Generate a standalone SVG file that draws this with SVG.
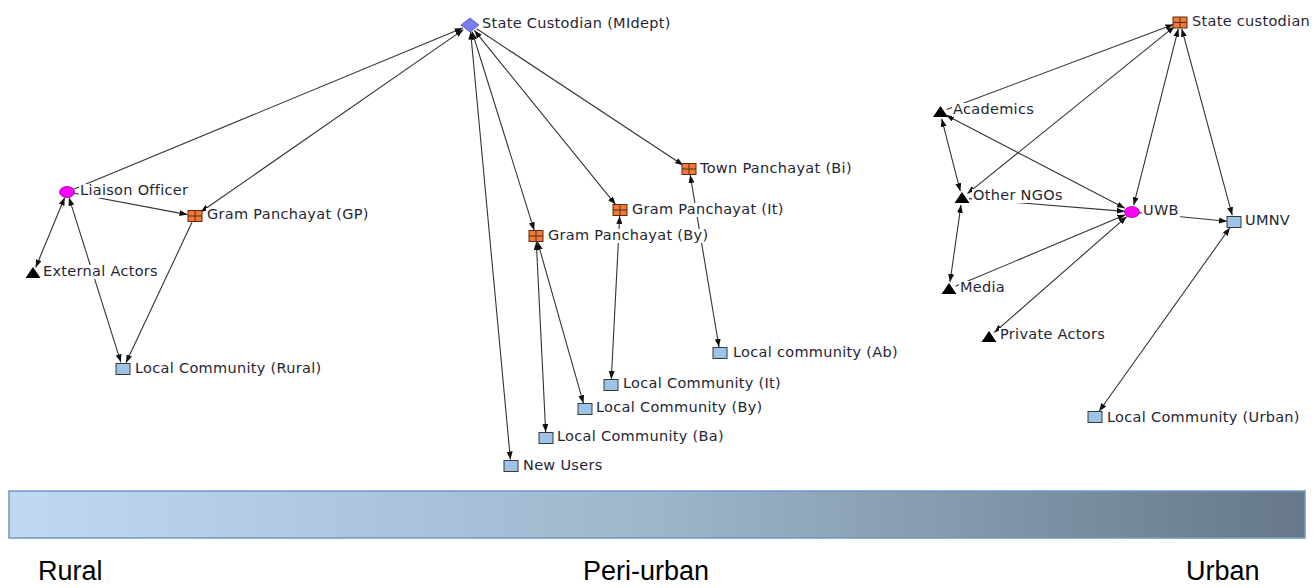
<svg xmlns="http://www.w3.org/2000/svg" width="1315" height="588" viewBox="0 0 1315 588">
<style>
.e{stroke:#333;stroke-width:1.1;fill:none}
.f{marker-end:url(#ah)}
.b{marker-start:url(#ah);marker-end:url(#ah)}
.lb{fill:#fff}
.t{font-family:"DejaVu Sans",Verdana,sans-serif;font-size:14.5px;letter-spacing:0.3px;fill:#1f2633}
.sq{fill:#9dc3e6;stroke:#3a3a3a;stroke-width:1}
.og{fill:#f07a3a;stroke:#5a2a10;stroke-width:1}
.gl{stroke:#5a2a10;stroke-width:1}
.tri{fill:#000}
.el{fill:#ff00ff;stroke:#a000a0;stroke-width:0.8}
.dm{fill:#7b7bf2;stroke:#5555b5;stroke-width:0.8}
.zone{font-family:"Liberation Sans",Arial,sans-serif;font-size:27px;fill:#000}
</style>
<defs>
<marker id="ah" viewBox="0 0 8 6" refX="8" refY="3" markerWidth="8" markerHeight="6" markerUnits="userSpaceOnUse" orient="auto-start-reverse">
<path d="M0,0 L8,3 L0,6 z" fill="#111"/>
</marker>
<linearGradient id="bar" x1="0" y1="0" x2="1" y2="0">
<stop offset="0" stop-color="#bfd9f1"/>
<stop offset="0.5" stop-color="#9db6cc"/>
<stop offset="1" stop-color="#66788a"/>
</linearGradient>
</defs>
<rect width="1315" height="588" fill="#fff"/>
<g id="connectors">
<line class="e f" x1="73.5" y1="189.3" x2="462.6" y2="28.1"/>
<line class="e b" x1="200.7" y1="212" x2="463.4" y2="29.6"/>
<line class="e f" x1="74" y1="193.3" x2="187.5" y2="214.6"/>
<line class="e b" x1="64.7" y1="197.5" x2="35.7" y2="267.5"/>
<line class="e b" x1="69" y1="197.7" x2="120.9" y2="362.3"/>
<line class="e f" x1="192" y1="222.3" x2="126" y2="362.7"/>
<line class="e b" x1="470.6" y1="31.5" x2="510.4" y2="459.5"/>
<line class="e b" x1="472.1" y1="31.7" x2="534.2" y2="230.3"/>
<line class="e b" x1="474.4" y1="30.4" x2="615.6" y2="204.6"/>
<line class="e f" x1="476.7" y1="28.8" x2="683.2" y2="165.2"/>
<line class="e b" x1="536.3" y1="242" x2="545.7" y2="432"/>
<line class="e b" x1="537.6" y1="241.8" x2="583.4" y2="403.2"/>
<line class="e b" x1="619.7" y1="216" x2="611.3" y2="379"/>
<line class="e b" x1="690.2" y1="175" x2="719" y2="347"/>
<line class="e f" x1="946.6" y1="109.5" x2="1173.4" y2="24.5"/>
<line class="e b" x1="967.4" y1="193.6" x2="1174.6" y2="26.4"/>
<line class="e b" x1="941.7" y1="118.8" x2="960.3" y2="191.2"/>
<line class="e b" x1="946.2" y1="115.2" x2="1124.9" y2="208.3"/>
<line class="e f" x1="969" y1="198.6" x2="1124.8" y2="211.4"/>
<line class="e b" x1="1178.3" y1="28.8" x2="1133.7" y2="205.2"/>
<line class="e b" x1="1181.8" y1="28.8" x2="1232.2" y2="215.2"/>
<line class="e f" x1="1139" y1="212.7" x2="1227" y2="221.3"/>
<line class="e b" x1="961" y1="204.9" x2="950" y2="282"/>
<line class="e f" x1="955.5" y1="286.3" x2="1125.5" y2="214.7"/>
<line class="e b" x1="994.3" y1="332.4" x2="1126.7" y2="216.6"/>
<line class="e b" x1="1099.1" y1="411.3" x2="1229.9" y2="227.7"/>
</g>
<g id="n-liaison">
<ellipse class="el" cx="67" cy="192" rx="7.5" ry="5.5"/>
<rect class="lb" x="79" y="184" width="110" height="14"/>
<text class="t" x="80" y="195">Liaison Officer</text>
</g>
<g id="n-gp-gp">
<rect class="og" x="188" y="210.5" width="14" height="11"/>
<path class="gl" d="M195,210.5V221.5M188,216H202"/>
<rect class="lb" x="206" y="208" width="165" height="14"/>
<text class="t" x="207" y="219">Gram Panchayat (GP)</text>
</g>
<g id="n-external">
<polygon class="tri" points="33,267 25.5,278 40.5,278"/>
<rect class="lb" x="42" y="265" width="118" height="14"/>
<text class="t" x="43" y="276">External Actors</text>
</g>
<g id="n-lc-rural">
<rect class="sq" x="116" y="363.5" width="14" height="11"/>
<rect class="lb" x="134" y="362" width="190" height="14"/>
<text class="t" x="135" y="373">Local Community (Rural)</text>
</g>
<g id="n-sc-midept">
<polygon class="dm" points="470,18 479,25 470,32 461,25"/>
<rect class="lb" x="481" y="17" width="191" height="14"/>
<text class="t" x="482" y="28">State Custodian (MIdept)</text>
</g>
<g id="n-tp-bi">
<rect class="og" x="682" y="163.5" width="14" height="11"/>
<path class="gl" d="M689,163.5V174.5M682,169H696"/>
<rect class="lb" x="699" y="162" width="157" height="14"/>
<text class="t" x="700" y="173">Town Panchayat (Bi)</text>
</g>
<g id="n-gp-it">
<rect class="og" x="613" y="204.5" width="14" height="11"/>
<path class="gl" d="M620,204.5V215.5M613,210H627"/>
<rect class="lb" x="631" y="203" width="155" height="14"/>
<text class="t" x="632" y="214">Gram Panchayat (It)</text>
</g>
<g id="n-gp-by">
<rect class="og" x="529" y="230.5" width="14" height="11"/>
<path class="gl" d="M536,230.5V241.5M529,236H543"/>
<rect class="lb" x="547" y="229" width="163" height="14"/>
<text class="t" x="548" y="240">Gram Panchayat (By)</text>
</g>
<g id="n-lc-ab">
<rect class="sq" x="713" y="347.5" width="14" height="11"/>
<rect class="lb" x="732" y="346" width="168" height="14"/>
<text class="t" x="733" y="357">Local community (Ab)</text>
</g>
<g id="n-lc-it">
<rect class="sq" x="604" y="379.5" width="14" height="11"/>
<rect class="lb" x="622" y="377" width="160" height="14"/>
<text class="t" x="623" y="388">Local Community (It)</text>
</g>
<g id="n-lc-by">
<rect class="sq" x="578" y="403.5" width="14" height="11"/>
<rect class="lb" x="595" y="401" width="168" height="14"/>
<text class="t" x="596" y="412">Local Community (By)</text>
</g>
<g id="n-lc-ba">
<rect class="sq" x="539" y="432.5" width="14" height="11"/>
<rect class="lb" x="556" y="430" width="169" height="14"/>
<text class="t" x="557" y="441">Local Community (Ba)</text>
</g>
<g id="n-new-users">
<rect class="sq" x="504" y="460.5" width="14" height="11"/>
<rect class="lb" x="522" y="459" width="82" height="14"/>
<text class="t" x="523" y="470">New Users</text>
</g>
<g id="n-sc-right">
<rect class="og" x="1173" y="17" width="14" height="11"/>
<path class="gl" d="M1180,17V28M1173,22.5H1187"/>
<rect class="lb" x="1191" y="15" width="124" height="14"/>
<text class="t" x="1192" y="26">State custodian</text>
</g>
<g id="n-academics">
<polygon class="tri" points="940.5,106 933,117 948,117"/>
<rect class="lb" x="952" y="103" width="84" height="14"/>
<text class="t" x="953" y="114">Academics</text>
</g>
<g id="n-other-ngos">
<polygon class="tri" points="962,192 954.5,203 969.5,203"/>
<rect class="lb" x="972" y="189" width="92" height="14"/>
<text class="t" x="973" y="200">Other NGOs</text>
</g>
<g id="n-uwb">
<ellipse class="el" cx="1132" cy="212" rx="7.5" ry="5.5"/>
<rect class="lb" x="1142" y="204" width="38" height="14"/>
<text class="t" x="1143" y="215">UWB</text>
</g>
<g id="n-umnv">
<rect class="sq" x="1227" y="216.5" width="14" height="11"/>
<rect class="lb" x="1244" y="214" width="48" height="14"/>
<text class="t" x="1245" y="225">UMNV</text>
</g>
<g id="n-media">
<polygon class="tri" points="949,283 941.5,294 956.5,294"/>
<rect class="lb" x="959" y="281" width="48" height="14"/>
<text class="t" x="960" y="292">Media</text>
</g>
<g id="n-private">
<polygon class="tri" points="989,331 981.5,342 996.5,342"/>
<rect class="lb" x="999" y="328" width="108" height="14"/>
<text class="t" x="1000" y="339">Private Actors</text>
</g>
<g id="n-lc-urban">
<rect class="sq" x="1088" y="411.5" width="14" height="11"/>
<rect class="lb" x="1106" y="411" width="196" height="14"/>
<text class="t" x="1107" y="422">Local Community (Urban)</text>
</g>
<g id="scale">
<rect x="9" y="491" width="1296" height="47" fill="url(#bar)" stroke="#6f96c2" stroke-width="1.5"/>
<text class="zone" x="38" y="580">Rural</text>
<text class="zone" x="583" y="580">Peri-urban</text>
<text class="zone" x="1186" y="580">Urban</text>
</g>
</svg>
